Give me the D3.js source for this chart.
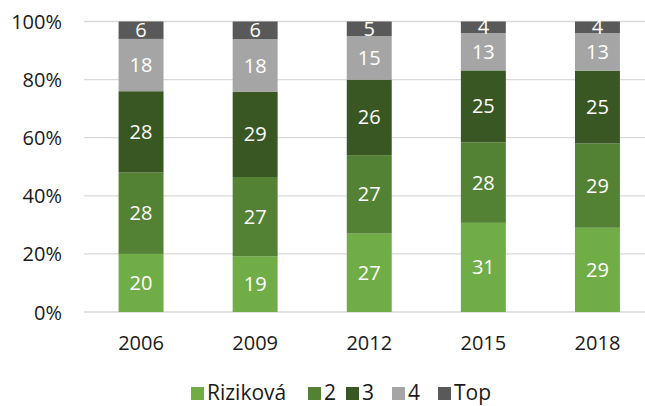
<!DOCTYPE html>
<html><head><meta charset="utf-8">
<script src="https://cdn.jsdelivr.net/npm/d3@7"></script>
<style>body{margin:0;background:#fff}svg{display:block}text{font-family:"Open Sans",sans-serif}</style>
</head><body><svg id="c" width="645" height="406"></svg>
<script>
const years = ["2006","2009","2012","2015","2018"];
const seriesNames = ["Riziková","2","3","4","Top"];
const rizikova = [20,19,27,31,29];
const s2 = [28,27,27,28,29];
const s3 = [28,29,26,25,25];
const s4 = [18,18,15,13,13];
const top5 = [6,6,5,4,4];
const yTicks = [0,0.2,0.4,0.6,0.8,1];
const colors = ["#70AD47","#548235","#385723","#A5A5A5","#595959"];

const allSeries = [rizikova,s2,s3,s4,top5];
const rows = years.map((y,i)=>{const r={year:y}; seriesNames.forEach((n,k)=>r[n]=allSeries[k][i]); return r;});
const stack = d3.stack().keys(seriesNames).offset(d3.stackOffsetExpand);
const layers = stack(rows);

const svg = d3.select("#c");
const left=84, right=654.5, topY=21.5, bottomY=312;
const x = d3.scaleBand().domain(years).range([left,right]).paddingInner(0.606).paddingOuter(0.303);
const y = d3.scaleLinear().domain([0,1]).range([bottomY,topY]);

// gridlines
svg.append("g").selectAll("line").data(yTicks).join("line")
  .attr("x1",left).attr("x2",645).attr("y1",d=>y(d)).attr("y2",d=>y(d))
  .attr("stroke","#d9d9d9").attr("stroke-width",1.3);

// y axis labels
const yAxis = d3.axisLeft(y).tickValues(yTicks).tickFormat(d3.format(".0%")).tickSize(0).tickPadding(0);
const ga = svg.append("g").attr("transform",`translate(62,0)`).call(yAxis);
ga.select(".domain").remove();
ga.selectAll("text").attr("font-size",20).attr("fill","#1a1a1a").attr("dy","0.35em");

// x axis
const xAxis = d3.axisBottom(x).tickSize(0).tickPadding(0);
const gx = svg.append("g").attr("transform",`translate(0,342.5)`).call(xAxis);
gx.select(".domain").remove();
gx.selectAll("text").attr("font-size",20).attr("fill","#1a1a1a").attr("dy","0.35em");

// bars
const g = svg.append("g");
layers.forEach((layer,k)=>{
  g.append("g").selectAll("rect").data(layer).join("rect")
    .attr("x",d=>x(d.data.year)).attr("width",x.bandwidth())
    .attr("y",d=>y(d[1])).attr("height",d=>y(d[0])-y(d[1]))
    .attr("fill",colors[k]);
  g.append("g").selectAll("text").data(layer).join("text")
    .attr("x",d=>x(d.data.year)+x.bandwidth()/2)
    .attr("y",d=>(y(d[0])+y(d[1]))/2)
    .attr("dy","0.35em").attr("text-anchor","middle")
    .attr("font-size",20).attr("fill","#fff")
    .text(d=>d.data[seriesNames[k]]);
});

// legend
const legX = [191,308,346,392,438];
const lg = svg.append("g");
seriesNames.forEach((n,k)=>{
  lg.append("rect").attr("x",legX[k]).attr("y",387).attr("width",13).attr("height",13).attr("fill",colors[k]);
  lg.append("text").attr("x",legX[k]+16).attr("y",400)
    .attr("font-size",21).attr("fill","#1a1a1a").text(n);
});
</script></body></html>
